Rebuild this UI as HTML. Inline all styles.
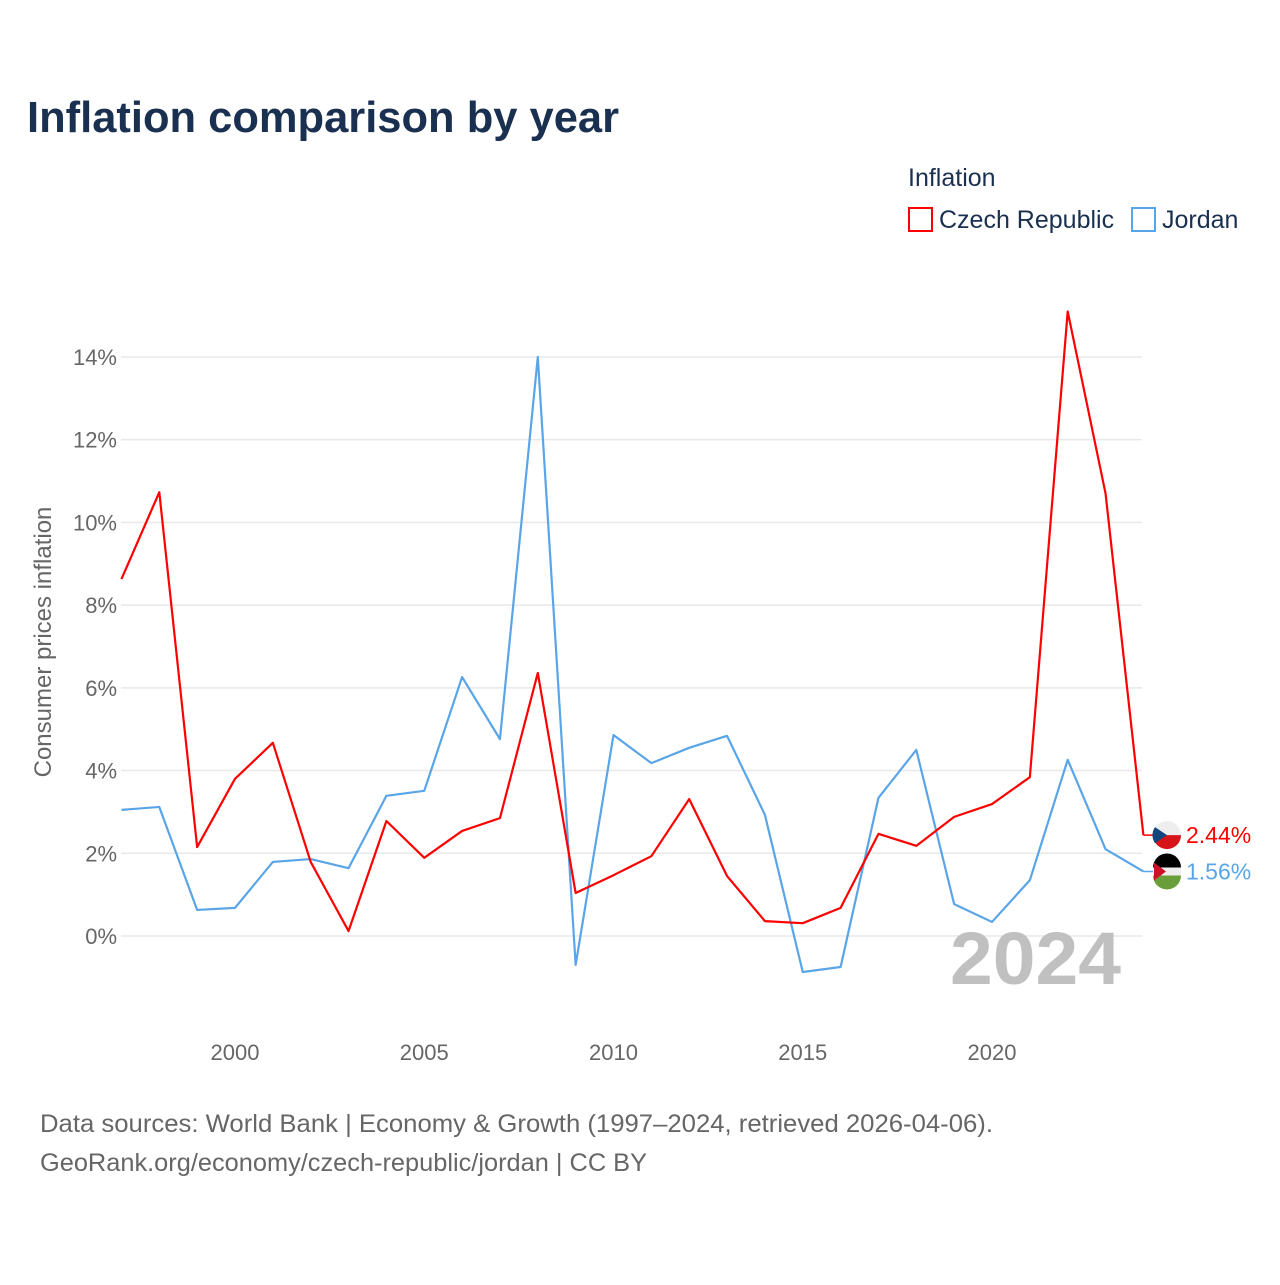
<!DOCTYPE html>
<html><head><meta charset="utf-8">
<style>
body{margin:0;background:#fff;font-family:"Liberation Sans",sans-serif;}
svg text{font-family:"Liberation Sans",sans-serif;}
</style></head>
<body>
<svg width="1280" height="1280" viewBox="0 0 1280 1280" xmlns="http://www.w3.org/2000/svg">
<text x="27" y="132" font-size="44" font-weight="bold" fill="#1a3050" textLength="592" lengthAdjust="spacingAndGlyphs">Inflation comparison by year</text>
<text x="908" y="186" font-size="25" fill="#1a3050">Inflation</text>
<g><rect x="909" y="208" width="23" height="23" fill="none" stroke="#ff0000" stroke-width="2"/><text x="939" y="228" font-size="25" fill="#1a3050">Czech Republic</text></g>
<g><rect x="1132" y="208" width="23" height="23" fill="none" stroke="#5aa5e8" stroke-width="2"/><text x="1162" y="228" font-size="25" fill="#1a3050">Jordan</text></g>
<g id="grid"></g>
<g id="yticks"></g>
<g id="xticks"></g>
<text transform="translate(51,642) rotate(-90)" text-anchor="middle" font-size="24" fill="#666">Consumer prices inflation</text>
<text x="950" y="984" font-size="74" font-weight="bold" fill="#c0c0c0" textLength="171" lengthAdjust="spacingAndGlyphs">2024</text>
<g id="series"></g>
<g id="ends"></g>
<text x="40" y="1132" font-size="25" fill="#666" textLength="953" lengthAdjust="spacingAndGlyphs">Data sources: World Bank | Economy &amp; Growth (1997–2024, retrieved 2026-04-06).</text>
<text x="40" y="1171" font-size="25" fill="#666" textLength="607" lengthAdjust="spacingAndGlyphs">GeoRank.org/economy/czech-republic/jordan | CC BY</text>
</svg>
<script>
const years=[1997,1998,1999,2000,2001,2002,2003,2004,2005,2006,2007,2008,2009,2010,2011,2012,2013,2014,2015,2016,2017,2018,2019,2020,2021,2022,2023,2024];
const czech=[8.63,10.73,2.15,3.80,4.67,1.79,0.12,2.78,1.89,2.54,2.85,6.36,1.04,1.47,1.93,3.31,1.45,0.36,0.31,0.68,2.47,2.18,2.88,3.19,3.84,15.1,10.7,2.44];
const jordan=[3.05,3.12,0.63,0.68,1.79,1.86,1.64,3.39,3.51,6.26,4.76,14.0,-0.70,4.86,4.18,4.55,4.84,2.93,-0.87,-0.75,3.34,4.50,0.77,0.34,1.35,4.26,2.10,1.56];
const yTicks=[0,2,4,6,8,10,12,14];
const xTicks=[2000,2005,2010,2015,2020];
const NS="http://www.w3.org/2000/svg";
const X=y=>235+(y-2000)*37.85;
const Y=v=>936-v*41.36;
function mk(t,a,p){const e=document.createElementNS(NS,t);for(const k in a)e.setAttribute(k,a[k]);p.appendChild(e);return e;}
const grid=document.getElementById('grid'),yt=document.getElementById('yticks'),xt=document.getElementById('xticks');
yTicks.forEach(v=>{
 const l=mk('line',{x1:121,x2:1142,y1:Y(v),y2:Y(v),stroke:'#e8e8e8','stroke-width':1.5},grid);
 
 
 const t=mk('text',{x:117,y:Y(v)+8,'text-anchor':'end','font-size':22,fill:'#666'},yt);
 t.textContent=v+'%';
 
 
});
xTicks.forEach(v=>{
 const t=mk('text',{x:X(v),y:1060,'text-anchor':'middle','font-size':22,fill:'#666'},xt);
 t.textContent=v;
 
 
});
const ser=document.getElementById('series');
[[jordan,'#5aa5e8','jordan-line'],[czech,'#ff0000','czech-line']].forEach(([d,c,n])=>{
 const p=mk('polyline',{points:d.map((v,i)=>X(years[i])+','+Y(v)).join(' '),fill:'none',stroke:c,'stroke-width':2.2,'stroke-linejoin':'round'},ser);
 
 
});
const ends=document.getElementById('ends');
const last=years.length-1;
const cy=Y(czech[last]),jy=Y(jordan[last]);
const cyl=Math.min(cy,jy-36),jyl=Math.max(jy,cy+36);
[[czech[last],cy,cyl,'#ff0000','czech'],[jordan[last],jy,jyl,'#5aa5e8','jordan']].forEach(([v,y0,yl,c,n])=>{
 mk('polyline',{points:`${X(2024)},${y0} 1152,${y0} 1160,${yl}`,fill:'none',stroke:c,'stroke-width':1.5},ends);
 const g=mk('g',{},ends);
 
 
 if(n==='czech'){
  mk('circle',{cx:1167,cy:yl,r:14,fill:'#eee'},g);
  mk('path',{d:`M1153,${yl} h28 a14,14 0 0 1 -28,0z`,fill:'#d7141a'},g);
  mk('path',{d:`M1167,${yl} L1155,${yl-8} A14,14 0 0 0 1155,${yl+8}z`,fill:'#11457e'},g);
 }else{
  mk('circle',{cx:1167,cy:yl,r:14,fill:'#eee'},g);
  mk('path',{d:`M1153,${yl-4} a14,14 0 0 1 28,0z`,fill:'#000'},g);
  mk('path',{d:`M1153,${yl+4} h28 a14,14 0 0 1 -28,0z`,fill:'#6a9e3a'},g);
  mk('path',{d:`M1154,${yl-9} L1166,${yl} L1154,${yl+9}z`,fill:'#ce1126'},g);
 }
 const t=mk('text',{x:1186,y:yl+8,'font-size':23,fill:c},ends);
 t.textContent=v.toFixed(2)+'%';
 
 
});
</script>
</body></html>
